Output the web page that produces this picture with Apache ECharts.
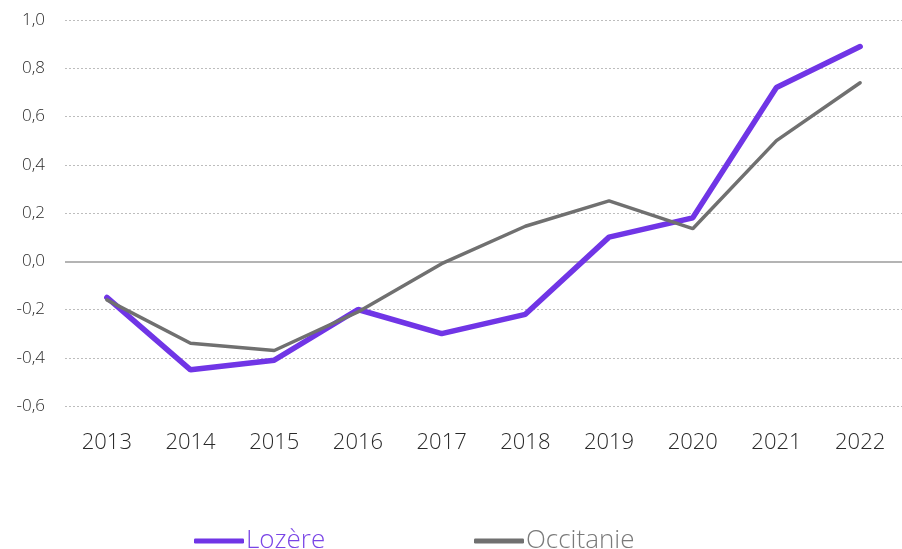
<!DOCTYPE html>
<html>
<head>
<meta charset="utf-8">
<script src="https://cdn.jsdelivr.net/npm/echarts@6/dist/echarts.min.js"></script>
<style>
  html, body { margin: 0; padding: 0; background: #fff; }
  #main { width: 902px; height: 549px; }
</style>
</head>
<body>
<div id="main"></div>
<script>
const years = ['2013', '2014', '2015', '2016', '2017', '2018', '2019', '2020', '2021', '2022'];
const lozere = [-0.15, -0.45, -0.41, -0.20, -0.30, -0.22, 0.10, 0.18, 0.72, 0.89];
const occitanie = [-0.16, -0.34, -0.37, -0.21, -0.01, 0.145, 0.25, 0.135, 0.50, 0.74];

const font = '"Open Sans", sans-serif';
const chart = echarts.init(document.getElementById('main'));

const legendBase = {
  top: 523,
  itemWidth: 50,
  itemHeight: 5,
  icon: 'roundRect',
  textStyle: { fontFamily: font, fontSize: 26, fontWeight: 300, padding: [0, 0, 0, -3] }
};

chart.setOption({
  animation: false,
  grid: { left: 65, top: 20, width: 840, height: 386 },
  legend: [
    Object.assign({}, legendBase, {
      left: 189,
      data: [{ name: 'Lozère', textStyle: { color: '#7a45e6' } }]
    }),
    Object.assign({}, legendBase, {
      left: 469,
      data: [{ name: 'Occitanie', textStyle: { color: '#7a7a7a' } }]
    })
  ],
  xAxis: {
    type: 'category',
    data: years,
    axisLine: { show: false },
    axisTick: { show: false },
    axisLabel: { color: '#2a2a2a', fontFamily: font, fontSize: 22, fontWeight: 300, margin: 26 }
  },
  yAxis: {
    type: 'value',
    min: -0.6,
    max: 1.0,
    interval: 0.2,
    axisLabel: {
      color: '#2a2a2a', fontFamily: font, fontSize: 17, fontWeight: 300, margin: 20,
      formatter: v => v.toFixed(1).replace('.', ',')
    },
    splitLine: { lineStyle: { type: [2, 2], color: '#bdbdbd', width: 1 } }
  },
  series: [
    {
      name: 'Occitanie',
      type: 'line',
      data: occitanie,
      symbol: 'none',
      z: 3,
      lineStyle: { color: '#707070', width: 3.5, cap: 'round' },
      itemStyle: { color: '#707070' },
      markLine: {
        silent: true,
        symbol: 'none',
        label: { show: false },
        lineStyle: { color: '#b4b4b4', type: 'solid', width: 2 },
        data: [{ yAxis: 0 }],
        z: 1
      }
    },
    {
      name: 'Lozère',
      type: 'line',
      data: lozere,
      symbol: 'none',
      z: 2,
      lineStyle: { color: '#7035e6', width: 5.5, cap: 'round' },
      itemStyle: { color: '#7035e6' }
    }
  ]
});
</script>
</body>
</html>
